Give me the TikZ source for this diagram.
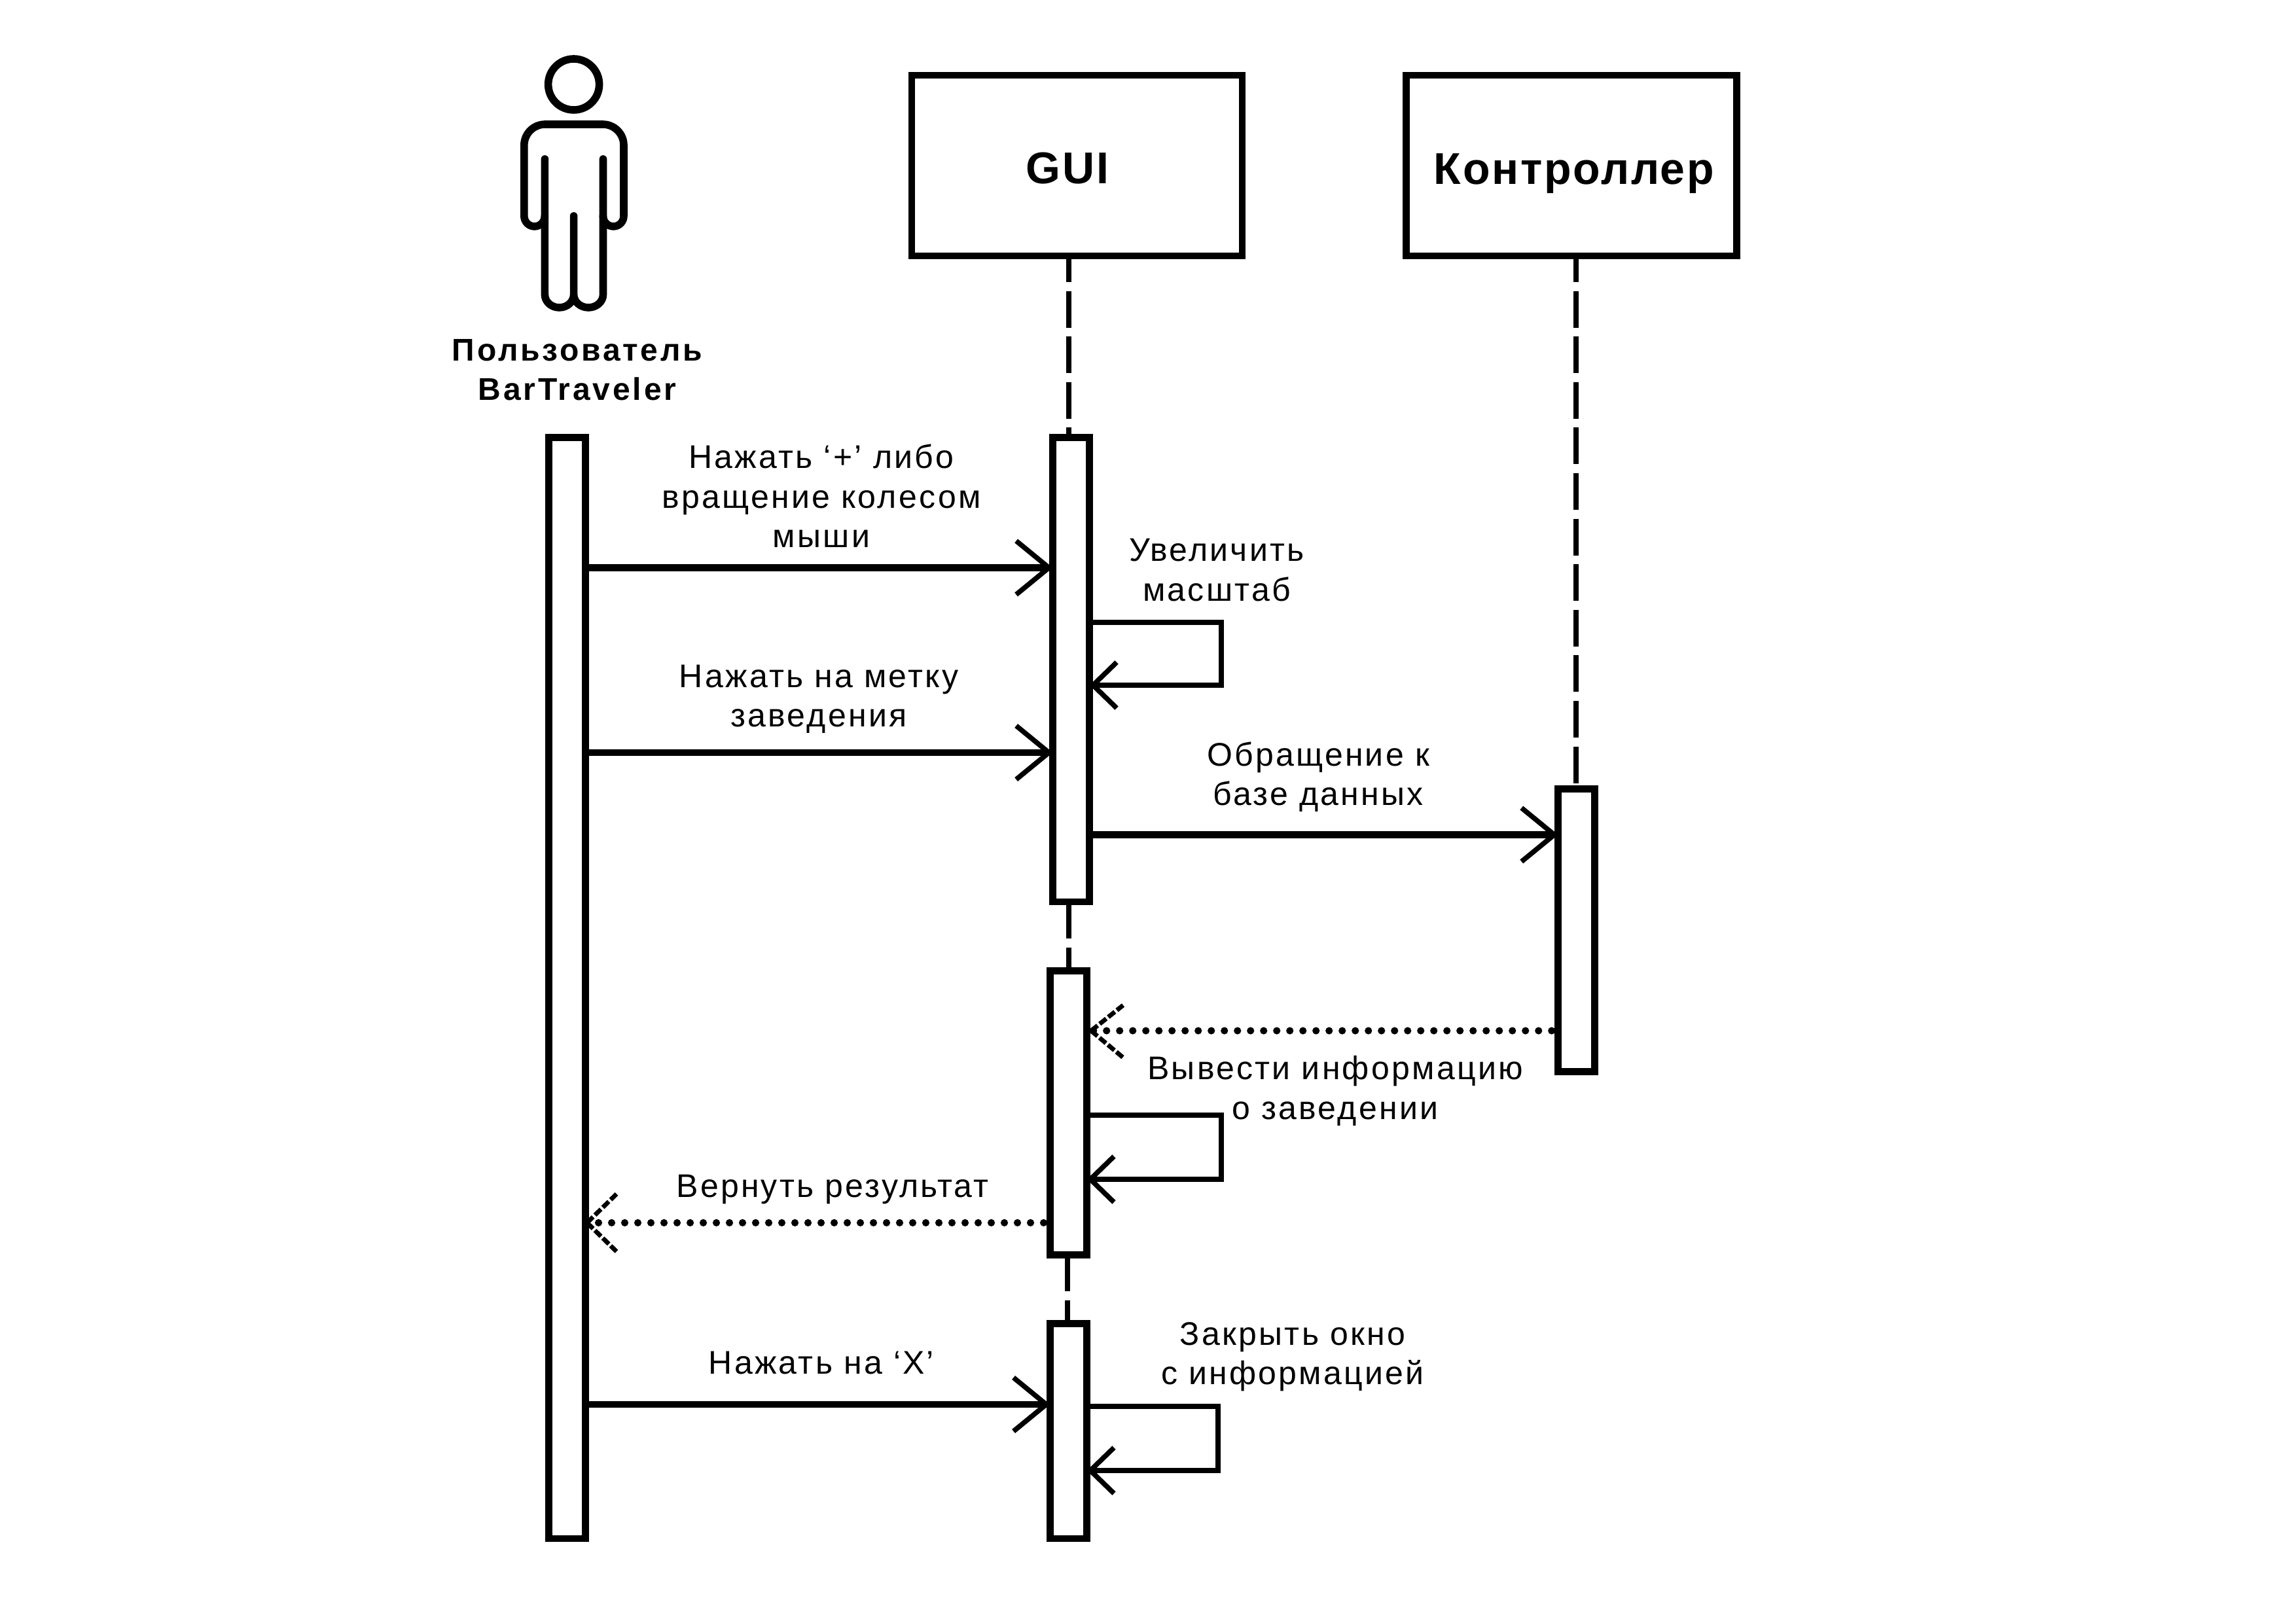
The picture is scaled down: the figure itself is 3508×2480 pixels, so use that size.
\documentclass[tikz,border=0pt]{standalone}
\usepackage{fontspec}
\usetikzlibrary{arrows.meta}
\setmainfont{Liberation Sans}
\newfontfamily\lblfont[LetterSpace=6.5]{Liberation Sans}
\newfontfamily\hdrfont[LetterSpace=4]{Liberation Sans Bold}
\newfontfamily\usrfont[LetterSpace=8]{Liberation Sans Bold}
\tikzset{
  x=0.25pt,y=-0.25pt,
  box/.style={draw=black,fill=white,line width=2.7pt,rectangle,inner sep=0pt,outer sep=0pt},
  hdr/.style={box,minimum width=126.25pt,minimum height=69pt},
  act/.style={box,minimum width=14pt},
  lbl/.style={inner sep=0pt,font=\lblfont\fontsize{12.5pt}{15.1pt}\selectfont,align=center},
  hdrtxt/.style={inner sep=0pt,anchor=base,font=\hdrfont\fontsize{17pt}{20pt}\selectfont,align=center},
  usrtxt/.style={inner sep=0pt,font=\usrfont\fontsize{12pt}{15.1pt}\selectfont,align=center},
  life/.style={line width=2pt,dash pattern=on 14pt off 3.4pt,dash phase=4pt},
  msg/.style={line width=2.6pt,-{Straight Barb[length=12.5pt,width=20.5pt,line width=1.9pt]}},
  loopmsg/.style={line width=1.9pt,-{Straight Barb[length=9pt,width=17.5pt,line width=1.9pt]}},
  ret/.style={line width=2.8pt,line cap=round,dash pattern=on 0pt off 5pt,dash phase=2.5pt},
  rethead/.style={line width=1.7pt,dash pattern=on 3.2pt off 1pt},
  fig/.style={line width=2.9pt,line cap=round,line join=round},
}
\begin{document}
\begin{tikzpicture}
\useasboundingbox[fill=white] (0,0) rectangle (3508,2480);
% actor
\draw[fig] (876.6,129) circle [radius=39];
\draw[fig] (832.4,243) -- (832.4,450) arc[start angle=180,end angle=0,x radius=22.1,y radius=20]
  -- (876.6,330) (876.6,450) arc[start angle=180,end angle=0,x radius=22.45,y radius=20]
  -- (921.5,243);
\draw[fig] (832.4,330) arc[start angle=0,end angle=180,x radius=15.8,y radius=16] -- (800.8,222)
  arc[start angle=180,end angle=270,radius=32] -- (921,190)
  arc[start angle=270,end angle=360,radius=32] -- (953,330)
  arc[start angle=0,end angle=180,x radius=15.8,y radius=16];
\node[usrtxt,name=usr] at (882,565) {Пользователь\\BarTraveler};
% headers
\node[hdr,name=gui] at (1645.5,253) {};
\node[hdrtxt,name=guit] at (1631,281) {GUI};
\node[hdr,name=ctl] at (2401,253) {};
\node[hdrtxt,name=ctlt] at (2405,282) {Контроллер};
% activations
\node[act,name=ua,minimum height=420.6pt] at (866.6,1509.8) {};
\node[act,name=g1,minimum height=177.35pt] at (1636.6,1023.3) {};
\node[act,name=g2,minimum height=108.45pt] at (1632.5,1700.3) {};
\node[act,name=g3,minimum height=82.1pt] at (1632.5,2186.8) {};
\node[act,name=c1,minimum height=108pt] at (2408.7,1421.7) {};
% lifelines
\coordinate (gl0) at (1632.6,391);
\coordinate (gl2) at (1632.6,1378);
\coordinate (gl4) at (1630.6,1917);
\coordinate (cl0) at (2407.7,391);
\draw[life] (gl0) -- (gl0 |- g1.north);
\draw[life,dash phase=0pt] (gl2) -- (gl2 |- g2.north);
\draw[life,dash phase=0pt] (gl4) -- (gl4 |- g3.north);
\draw[life] (cl0) -- (cl0 |- c1.north);
% messages
\draw[msg] (ua.east |- 0,867.5) -- (g1.west |- 0,867.5);
\draw[msg] (ua.east |- 0,1150) -- (g1.west |- 0,1150);
\draw[msg] (g1.east |- 0,1275.5) -- (c1.west |- 0,1275.5);
\draw[msg] (ua.east |- 0,2146) -- (g3.west |- 0,2146);
\coordinate (m4b) at (1667,1575);
\coordinate (m5b) at (897,1868.4);
\draw[ret] (c1.west |- m4b) -- (m4b);
\draw[rethead] (m4b) -- ++(49,-39);
\draw[rethead] (m4b) -- ++(49,41);
\draw[ret] (g2.west |- m5b) -- (m5b);
\draw[rethead] (m5b) -- ++(45,-44);
\draw[rethead] (m5b) -- ++(45,44);
% self messages
\draw[loopmsg] (g1.east |- 0,951) -- (1866,951) -- (1866,1047) -- (g1.east |- 0,1047);
\draw[loopmsg] (g2.east |- 0,1704) -- (1866,1704) -- (1866,1802) -- (g2.east |- 0,1802);
\draw[loopmsg] (g3.east |- 0,2149) -- (1861,2149) -- (1861,2247) -- (g3.east |- 0,2247);
% labels
\node[lbl,name=t1] at (1255,758) {Нажать ‘+’ либо\\вращение колесом\\мыши};
\node[lbl,name=t2] at (1859,871) {Увеличить\\масштаб};
\node[lbl,name=t3] at (1251,1068) {Нажать на метку\\заведения};
\node[lbl,name=t4] at (2014,1187) {Обращение к\\базе данных};
\node[lbl,name=t5] at (2040,1667) {Вывести информацию\\о заведении};
\node[lbl,name=t6] at (1272,1817) {Вернуть результат};
\node[lbl,name=t7] at (1255,2083) {Нажать на ‘X’};
\node[lbl,name=t8] at (1975,2073) {Закрыть окно\\с информацией};
\end{tikzpicture}
\end{document}
